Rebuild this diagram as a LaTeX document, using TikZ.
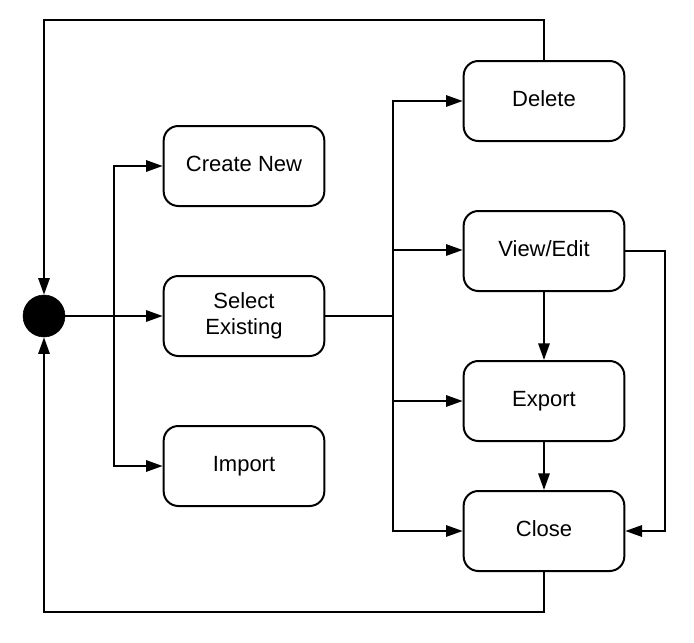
\documentclass[tikz,border=0pt]{standalone}
\usepackage{fontspec}
\setmainfont{Liberation Sans}
\usetikzlibrary{arrows.meta,positioning}

\begin{document}
\begin{tikzpicture}[x=0.75pt,y=-0.75pt]
  \tikzstyle{state}=[draw=black,line width=1.5pt,rounded corners=11pt,fill=white,
    minimum width=120.5pt,minimum height=60pt,align=center,text depth=3.8pt,
    font=\fontsize{16.5}{19.5}\selectfont]
  \tikzstyle{initial}=[circle,fill=black,draw=black,minimum size=31.5pt,inner sep=0pt]
  \tikzstyle{flow}=[-{Triangle[length=12.5pt,width=8.5pt]},black,line width=1.5pt]
  \tikzstyle{plain}=[black,line width=1.5pt]

  \useasboundingbox (0,0) rectangle (694,643);

  % -- Start --
  \node[initial] (start) at (44,316) {};

  % -- First choice --
  \node[state] (create) at (244,166) {Create New};
  \node[state] (select) at (244,316) {Select\\ Existing};
  \node[state] (import) at (244,466) {Import};

  % -- Actions on an existing item --
  \node[state] (delete) at (544,101) {Delete};
  \node[state] (view) at (544,251) {View/Edit};
  \node[state] (export) at (544,401) {Export};
  \node[state] (close) at (544,531) {Close};

  % -- Bend points --
  \coordinate (fork1) at (114,316);
  \coordinate (fork2) at (393,316);
  \coordinate (side) at (665,251);
  \coordinate (topleft) at (44,20);
  \coordinate (botleft) at (44,612);

  % -- Flows --
  \draw[flow] (start) -- (select);
  \draw[flow] (fork1) |- (create);
  \draw[flow] (fork1) |- (import);
  \draw[plain] (select) -- (fork2);
  \draw[flow] (fork2) |- (delete.west);
  \draw[flow] (fork2) |- ([yshift=0.75pt]view.west);
  \draw[flow] (fork2) |- (export.west);
  \draw[flow] (fork2) |- (close.west);
  \draw[flow] (view) -- (export);
  \draw[flow] (export) -- (close);
  \draw[flow] (view.east) -- (side) |- (close.east);

  % -- Return to start --
  \draw[flow] (delete.north) |- (topleft) -- (start);
  \draw[flow] (close.south) |- (botleft) -- (start);
\end{tikzpicture}
\end{document}
